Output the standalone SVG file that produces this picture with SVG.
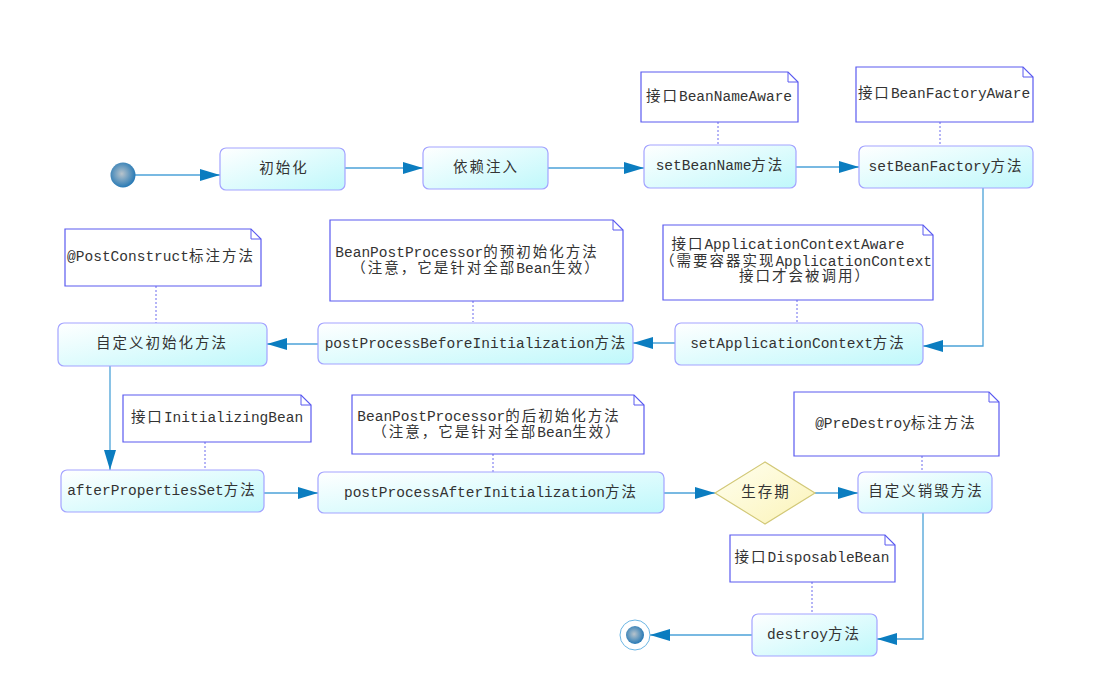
<svg xmlns="http://www.w3.org/2000/svg" width="1103" height="682" viewBox="0 0 1103 682">
<defs>
<linearGradient id="boxg" x1="0" y1="0" x2="1" y2="1">
<stop offset="0" stop-color="#ffffff"/>
<stop offset="1" stop-color="#bff8fb"/>
</linearGradient>
<linearGradient id="diag" x1="0" y1="0" x2="1" y2="1">
<stop offset="0" stop-color="#fffff0"/>
<stop offset="1" stop-color="#fbf3b8"/>
</linearGradient>
<radialGradient id="ballg" cx="0.45" cy="0.45" r="0.6">
<stop offset="0" stop-color="#b8c4cc"/>
<stop offset="1" stop-color="#1b73b3"/>
</radialGradient>
<marker id="arr" markerUnits="userSpaceOnUse" markerWidth="21" markerHeight="12" refX="20" refY="6" orient="auto">
<path d="M0,0 L20,6 L0,12 z" fill="#0b7dc0"/>
</marker>
<style>
.box{fill:url(#boxg);stroke:#a3a3ff;stroke-width:1.2}
.note{fill:#ffffff;stroke:#5a5af0;stroke-width:1.2}
.fold{fill:none;stroke:#5a5af0;stroke-width:1}
.t{font-family:"Liberation Mono","Noto Sans CJK SC",monospace;font-size:14.5px;fill:#333333;text-anchor:middle;dominant-baseline:central}
.cj{letter-spacing:2px}
.conn{fill:none;stroke:#4ba2d8;stroke-width:1.3;marker-end:url(#arr)}
.dot{fill:none;stroke:#6a6aee;stroke-width:1;stroke-dasharray:2,2}
</style>
</defs>
<rect width="1103" height="682" fill="#ffffff"/>

<g id="connectors">
<path class="conn" d="M134,175 L220,175"/>
<path class="conn" d="M345,168 L423,168"/>
<path class="conn" d="M548,168 L644,168"/>
<path class="conn" d="M796,167 L859,167"/>
<path class="conn" d="M983,188 L983,346 L923,346"/>
<path class="conn" d="M675,343 L633,343"/>
<path class="conn" d="M318,344 L267,344"/>
<path class="conn" d="M110,366 L110,470"/>
<path class="conn" d="M264,493 L318,493"/>
<path class="conn" d="M664,493 L715,493"/>
<path class="conn" d="M815,493 L858,493"/>
<path class="conn" d="M923,513 L923,639 L877,639"/>
<path class="conn" d="M752,635 L650,635"/>
<path class="dot" d="M718,122 V145"/>
<path class="dot" d="M940,122 V146"/>
<path class="dot" d="M156,286 V323"/>
<path class="dot" d="M473,301 V322"/>
<path class="dot" d="M797,300 V323"/>
<path class="dot" d="M205,442 V470"/>
<path class="dot" d="M493,454 V472"/>
<path class="dot" d="M922,456 V472"/>
<path class="dot" d="M812,582 V614"/>
</g>

<g id="start"><circle cx="123" cy="175" r="12.5" fill="url(#ballg)"/></g>

<g id="init"><rect class="box" x="220" y="148" width="125" height="42" rx="6"/><text class="t cj" x="284" y="169">初始化</text></g>
<g id="inject"><rect class="box" x="423" y="147" width="125" height="42" rx="6"/><text class="t cj" x="486" y="168">依赖注入</text></g>
<g id="setBeanName"><rect class="box" x="644" y="145" width="152" height="43" rx="6"/><text class="t" x="720" y="166">setBeanName<tspan class="cj">方法</tspan></text></g>
<g id="setBeanFactory"><rect class="box" x="859" y="146" width="174" height="42" rx="6"/><text class="t" x="946" y="167">setBeanFactory<tspan class="cj">方法</tspan></text></g>

<g id="noteBeanNameAware"><path class="note" d="M641,72 H788 L798,82 V122 H641 Z"/><path class="fold" d="M788,72 V82 H798"/><text class="t" x="719" y="97"><tspan class="cj">接口</tspan>BeanNameAware</text></g>
<g id="noteBeanFactoryAware"><path class="note" d="M856,67 H1023 L1033,77 V122 H856 Z"/><path class="fold" d="M1023,67 V77 H1033"/><text class="t" x="944" y="94"><tspan class="cj">接口</tspan>BeanFactoryAware</text></g>

<g id="notePostConstruct"><path class="note" d="M65,229 H251 L261,239 V286 H65 Z"/><path class="fold" d="M251,229 V239 H261"/><text class="t" x="161" y="257">@PostConstruct<tspan class="cj">标注方法</tspan></text></g>
<g id="noteBPPBefore"><path class="note" d="M330,220 H613 L623,230 V301 H330 Z"/><path class="fold" d="M613,220 V230 H623"/><text class="t" x="467" y="253">BeanPostProcessor<tspan class="cj">的预初始化方法</tspan></text><text class="t" x="476" y="269"><tspan class="cj">（注意，它是针对全部</tspan>Bean<tspan class="cj">生效）</tspan></text></g>
<g id="noteAppContext"><path class="note" d="M663,225 H923 L933,235 V300 H663 Z"/><path class="fold" d="M923,225 V235 H933"/><text class="t" x="788" y="245"><tspan class="cj">接口</tspan>ApplicationContextAware</text><text class="t" x="796" y="262"><tspan class="cj">（需要容器实现</tspan>ApplicationContext</text><text class="t cj" x="805" y="277">接口才会被调用）</text></g>

<g id="customInit"><rect class="box" x="58" y="323" width="209" height="43" rx="6"/><text class="t cj" x="162" y="344">自定义初始化方法</text></g>
<g id="ppBefore"><rect class="box" x="318" y="323" width="315" height="41" rx="6"/><text class="t" x="476" y="344">postProcessBeforeInitialization<tspan class="cj">方法</tspan></text></g>
<g id="setAppContext"><rect class="box" x="675" y="323" width="248" height="42" rx="6"/><text class="t" x="798" y="344">setApplicationContext<tspan class="cj">方法</tspan></text></g>

<g id="noteInitializingBean"><path class="note" d="M123,395 H301 L311,405 V442 H123 Z"/><path class="fold" d="M301,395 V405 H311"/><text class="t" x="217" y="418"><tspan class="cj">接口</tspan>InitializingBean</text></g>
<g id="noteBPPAfter"><path class="note" d="M352,395 H634 L644,405 V454 H352 Z"/><path class="fold" d="M634,395 V405 H644"/><text class="t" x="489" y="417">BeanPostProcessor<tspan class="cj">的后初始化方法</tspan></text><text class="t" x="497" y="433"><tspan class="cj">（注意，它是针对全部</tspan>Bean<tspan class="cj">生效）</tspan></text></g>
<g id="notePreDestroy"><path class="note" d="M794,392 H989 L999,402 V456 H794 Z"/><path class="fold" d="M989,392 V402 H999"/><text class="t" x="896" y="424">@PreDestroy<tspan class="cj">标注方法</tspan></text></g>

<g id="afterPropertiesSet"><rect class="box" x="61" y="470" width="203" height="42" rx="6"/><text class="t" x="162" y="491">afterPropertiesSet<tspan class="cj">方法</tspan></text></g>
<g id="ppAfter"><rect class="box" x="318" y="472" width="346" height="41" rx="6"/><text class="t" x="491" y="493">postProcessAfterInitialization<tspan class="cj">方法</tspan></text></g>
<g id="lifetime"><path d="M715,493 L765,462 L815,493 L765,524 Z" fill="url(#diag)" stroke="#d2c877" stroke-width="1.2"/><text class="t cj" x="766" y="493">生存期</text></g>
<g id="customDestroy"><rect class="box" x="858" y="472" width="134" height="41" rx="6"/><text class="t cj" x="926" y="492">自定义销毁方法</text></g>

<g id="noteDisposableBean"><path class="note" d="M730,535 H885 L895,545 V582 H730 Z"/><path class="fold" d="M885,535 V545 H895"/><text class="t" x="812" y="558"><tspan class="cj">接口</tspan>DisposableBean</text></g>
<g id="destroy"><rect class="box" x="752" y="614" width="125" height="42" rx="6"/><text class="t" x="814" y="635">destroy<tspan class="cj">方法</tspan></text></g>

<g id="end"><circle cx="635" cy="635" r="15" fill="#ffffff" stroke="#6cb6e4" stroke-width="1"/><circle cx="635" cy="635" r="9" fill="url(#ballg)"/></g>
</svg>
